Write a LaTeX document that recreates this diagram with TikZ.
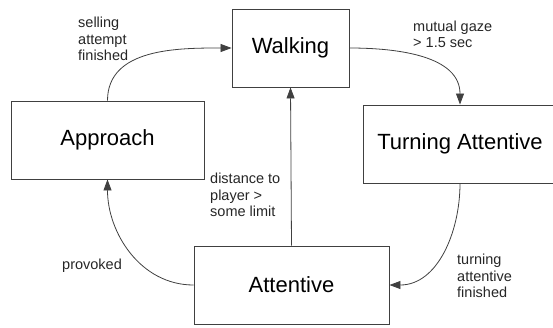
\documentclass[tikz,border=0pt]{standalone}
\usepackage{fontspec}
\setmainfont{Liberation Sans}
\usepackage{tikz}
\usetikzlibrary{arrows.meta}
\usetikzlibrary{positioning}
\colorlet{LineGray}{black!75}
\colorlet{TextGray}{black!85}

\begin{document}
\begin{tikzpicture}[x=1pt, y=1pt,
  state/.style={draw=LineGray, line width=0.9pt, fill=white, inner sep=0pt,
    minimum height=78pt, font=\fontsize{22}{26}\selectfont},
  cond/.style={align=left, inner sep=0pt, text=TextGray,
    font=\fontsize{14.5}{16.5}\selectfont},
  trans/.style={draw=LineGray, line width=0.8pt,
    -{Triangle[length=11pt, width=8pt]}}]

% frame of the picture
\useasboundingbox (0,0) rectangle (553,-327);

% States
\node[state, minimum width=117pt] (walking)   at (290.5,-48)  {Walking};
\node[state, minimum width=193pt] (approach)  at (107.5,-140) {Approach};
\node[state, minimum width=194pt] (turning)   at (460,-144)   {Turning Attentive};
\node[state, minimum width=195pt] (attentive) at (291.5,-285) {Attentive};

% Transitions
\draw[trans] (approach.north) to[out=90, in=180] (walking.west);
\draw[trans] (walking.east) to[out=0, in=90] (turning.north);
\draw[trans] (turning.south) to[out=-90, in=0] (attentive.east);
\draw[trans] (attentive.west) to[out=180, in=-90] (approach.south);
\draw[trans] (attentive.north) -- (walking.south);

% Conditions
\node[cond, anchor=west] (selling)  at (78,-39)   {selling\\attempt\\finished};
\node[cond, anchor=west] (gaze)     at (413,-34.5) {mutual gaze\\> 1.5 sec};
\node[cond, anchor=west] (distance) at (210,-195) {distance to\\player >\\some limit};
\node[cond, anchor=west] (finished) at (457,-276) {turning\\attentive\\finished};
\node[cond, anchor=west] (provoked) at (62,-266)  {provoked};

\end{tikzpicture}
\end{document}
